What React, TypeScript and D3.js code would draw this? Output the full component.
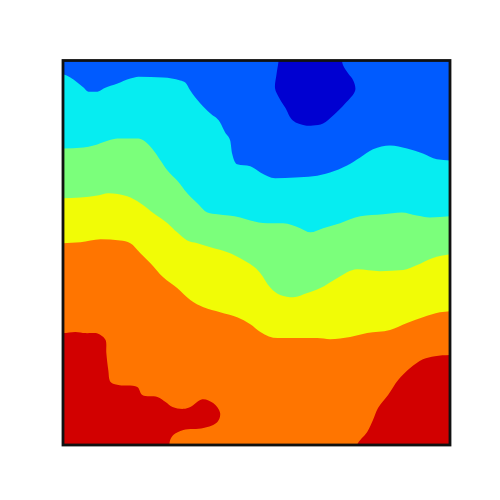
import React, { useRef, useEffect } from 'react';
import * as d3 from 'd3';

// contour band colours, lowest to highest (jet, 7 bands)
const bandColors = ['#0000d1', '#005bff', '#06edf1', '#7bff7b', '#f1fc06', '#ff7500', '#d20000'];

// band boundaries, [x, y] in data units (0..100 both ways, y up)
const blueCyan: [number, number][] = [
  [0, 96.4], [1.9, 95.6], [3.7, 94.3], [5.3, 93.0], [6.6, 91.9], [8.9, 91.9], [10.5, 92.7],
  [14.1, 94.0], [17.4, 95.3], [19.5, 95.8], [25.9, 95.6], [30.3, 94.8], [31.6, 94.3],
  [32.9, 92.2], [35.5, 88.8], [38.1, 86.2], [40.6, 83.9], [41.9, 81.3], [43.2, 79.2],
  [43.7, 75.8], [45.0, 73.0], [48.4, 72.5], [51.0, 70.9], [54.8, 69.4], [60.0, 69.6],
  [64.6, 69.9], [69.0, 70.9], [73.4, 72.7], [76.8, 74.8], [80.1, 76.9], [84.5, 77.9],
  [88.9, 77.1], [93.0, 75.8], [96.6, 74.3], [100, 74.0],
];
const cyanGreen: [number, number][] = [
  [0, 77.1], [5.3, 77.4], [7.9, 77.9], [11.7, 79.2], [14.1, 79.7], [19.5, 79.7], [21.8, 78.4],
  [23.4, 76.6], [25.2, 74.0], [27.0, 71.4], [29.5, 68.8], [32.1, 65.5], [34.7, 62.9],
  [37.3, 60.5], [39.9, 60.0], [45.8, 59.2], [48.4, 58.4], [52.8, 57.7], [56.9, 57.7],
  [61.3, 56.4], [63.9, 55.3], [67.2, 56.4], [71.6, 57.7], [76.8, 59.5], [82.7, 60.0],
  [87.5, 60.5], [91.4, 59.7], [94.8, 59.2], [100, 59.5],
];
const greenYellow: [number, number][] = [
  [0, 64.2], [4.5, 64.4], [8.9, 64.9], [11.7, 65.5], [16.6, 64.7], [20.0, 62.9], [23.4, 60.3],
  [27.0, 57.7], [29.5, 55.3], [32.1, 53.2], [34.7, 52.5], [38.1, 51.4], [42.5, 50.1],
  [46.6, 48.1], [51.0, 44.7], [53.5, 41.0], [56.1, 39.0], [59.5, 38.4], [63.1, 39.5],
  [66.5, 40.8], [70.8, 43.4], [76.0, 45.7], [81.9, 45.2], [87.9, 45.5], [91.5, 46.8],
  [95.4, 48.6], [100, 49.6],
];
const yellowOrange: [number, number][] = [
  [0, 52.5], [4.5, 52.7], [9.7, 53.5], [14.8, 53.2], [17.4, 52.5], [20.0, 49.9], [22.6, 47.3],
  [25.9, 43.6], [29.5, 40.8], [32.9, 37.7], [36.3, 35.8], [40.6, 34.5], [45.0, 33.2],
  [48.4, 31.4], [51.0, 29.4], [55.4, 27.8], [60.5, 27.8], [65.7, 27.8], [69.0, 27.5],
  [74.2, 28.1], [78.6, 29.1], [84.5, 29.9], [88.9, 31.7], [93.0, 33.2], [97.4, 34.5],
  [100, 34.8],
];

// closed regions
const lowPeak: [number, number][] = [
  [55.7, 104], [55.7, 100], [55.2, 96.6], [54.8, 92.7], [55.8, 90.4], [57.4, 87.8],
  [59.4, 84.4], [62.6, 83.1], [64.6, 83.1], [67.2, 83.6], [69.8, 85.7], [72.9, 88.8],
  [75.5, 92.2], [75.0, 94.8], [73.7, 96.6], [72.4, 98.7], [72.1, 100], [72.1, 104],
];
const highLeft: [number, number][] = [
  [-4, 29.1], [0, 29.1], [3.2, 29.4], [5.8, 29.1], [8.4, 29.1], [9.7, 28.6], [11.0, 27.3],
  [11.2, 23.9], [11.7, 19.5], [12.3, 16.4], [14.3, 15.6], [19.2, 15.1], [20.5, 13.0],
  [24.4, 12.5], [26.5, 11.2], [28.3, 9.9], [31.1, 9.4], [32.9, 9.9], [36.0, 11.9],
  [38.8, 10.9], [40.6, 8.3], [39.9, 6.0], [36.3, 4.4], [31.1, 3.9], [28.5, 2.6],
  [27.7, 1.3], [27.5, 0], [27.5, -4], [-4, -4],
];
const highRight: [number, number][] = [
  [104, 23.4], [100, 23.4], [96.1, 23.1], [93.0, 22.3], [89.7, 20.0], [86.6, 16.9],
  [84.0, 13.0], [81.4, 9.6], [80.1, 6.5], [78.6, 3.4], [76.0, 0], [76.0, -4], [104, -4],
];

const bands = [blueCyan, cyanGreen, greenYellow, yellowOrange];

const ContourChart = () => {
  const svgRef = useRef<SVGSVGElement>(null);

  useEffect(() => {
    const svg = d3.select(svgRef.current);
    svg.selectAll('*').remove();

    const x = d3.scaleLinear().domain([0, 100]).range([63, 450]);
    const y = d3.scaleLinear().domain([0, 100]).range([445, 60.5]);

    svg.append('defs').append('clipPath').attr('id', 'plot-clip')
      .append('rect')
      .attr('x', x(0)).attr('y', y(100))
      .attr('width', x(100) - x(0)).attr('height', y(0) - y(100));

    const g = svg.append('g').attr('clip-path', 'url(#plot-clip)');

    // lowest visible level everywhere first
    g.append('rect')
      .attr('x', x(0)).attr('y', y(100))
      .attr('width', x(100) - x(0)).attr('height', y(0) - y(100))
      .attr('fill', bandColors[1]);

    const blob = d3.line<[number, number]>()
      .x(d => x(d[0])).y(d => y(d[1]))
      .curve(d3.curveCatmullRomClosed);

    g.append('path').attr('d', blob(lowPeak)).attr('fill', bandColors[0]);

    const area = d3.area<[number, number]>()
      .x(d => x(d[0]))
      .y0(y(-5))
      .y1(d => y(d[1]))
      .curve(d3.curveMonotoneX);

    bands.forEach((b, i) => {
      g.append('path').attr('d', area(b)).attr('fill', bandColors[i + 2]);
    });

    [highLeft, highRight].forEach(r => {
      g.append('path').attr('d', blob(r)).attr('fill', bandColors[6]);
    });

    // axes frame
    svg.append('rect')
      .attr('x', x(0)).attr('y', y(100))
      .attr('width', x(100) - x(0)).attr('height', y(0) - y(100))
      .attr('fill', 'none')
      .attr('stroke', '#111')
      .attr('stroke-width', 2.8);
  }, []);

  return <svg ref={svgRef} width={500} height={500} style={{ position: 'absolute', left: 0, top: 0 }} />;
};

export default function App() {
  return <ContourChart />;
}
